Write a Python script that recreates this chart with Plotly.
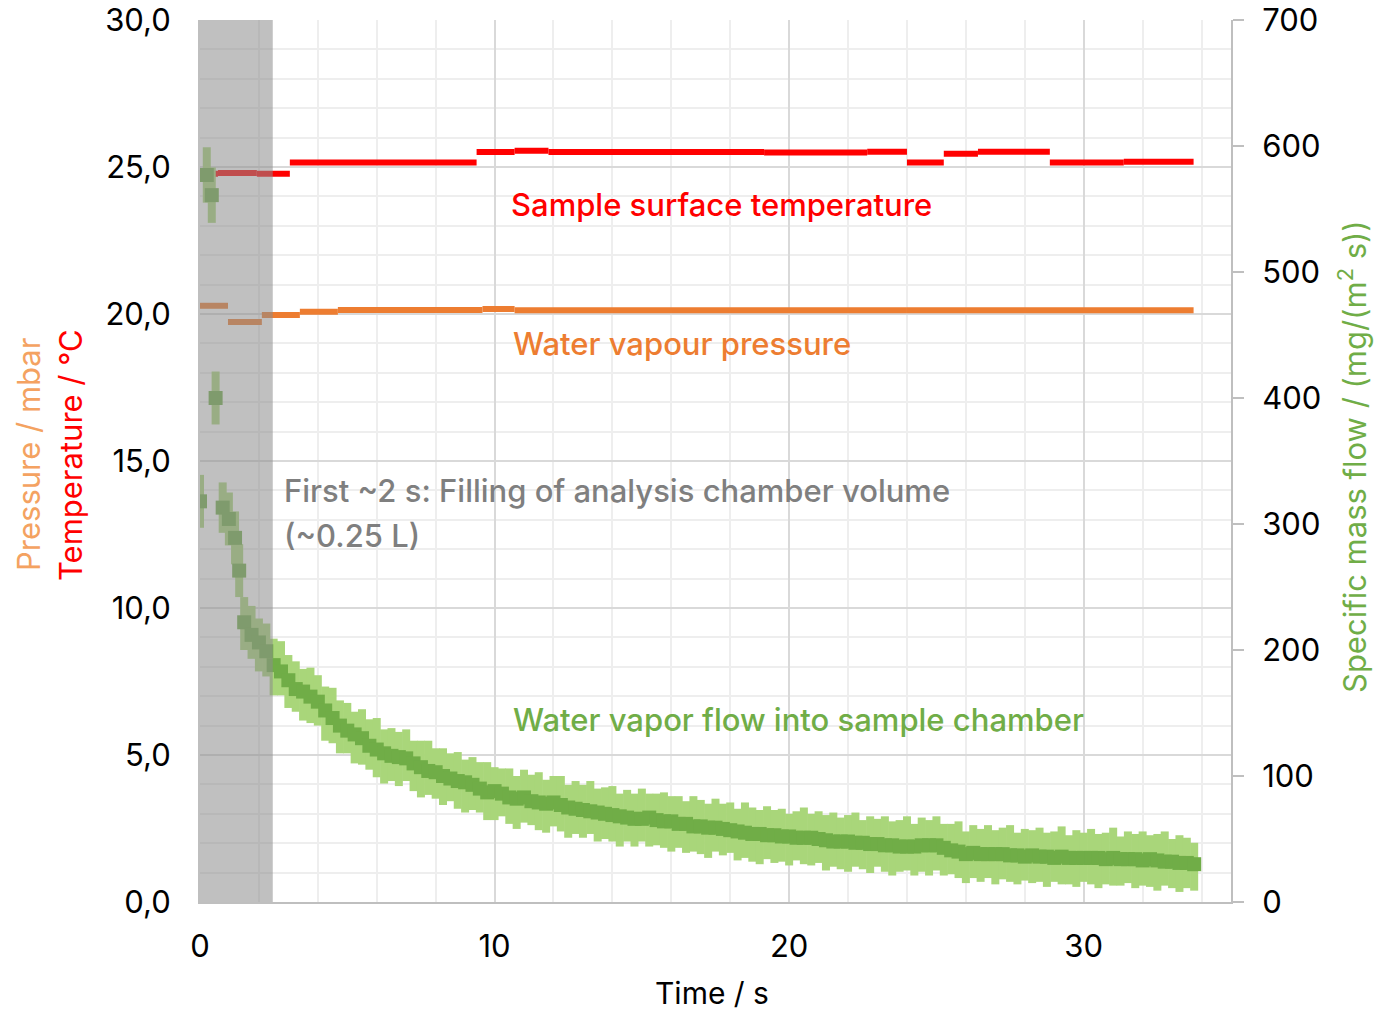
import numpy as np
import plotly.graph_objects as go

# ---------------- data ----------------
# Sample surface temperature (°C): step segments
temp_start = [0.0, 0.61, 1.93, 3.05, 9.39, 10.68, 11.83, 19.15, 22.65, 24.0, 25.25, 26.41, 28.85, 31.36]
temp_end = [0.61, 1.93, 3.05, 9.39, 10.68, 11.83, 19.15, 22.65, 24.0, 25.25, 26.41, 28.85, 31.36, 33.73]
temp_val = [24.77, 24.80, 24.77, 25.15, 25.51, 25.55, 25.51, 25.49, 25.52, 25.15, 25.45, 25.52, 25.15, 25.18]

# Water vapour pressure (mbar): step segments
pres_start = [0.0, 0.95, 2.1, 3.39, 4.68, 9.59, 10.68, 24.0]
pres_end = [0.95, 2.1, 3.39, 4.68, 9.59, 10.68, 24.0, 33.73]
pres_val = [20.28, 19.73, 19.97, 20.08, 20.14, 20.17, 20.13, 20.13]

# Specific mass flow (mg/(m^2 s)) - early points
flow_t_early = [0.0, 0.23, 0.4, 0.53, 0.77, 0.98, 1.19, 1.33]
flow_early = [318, 577, 561, 400, 313, 304, 289, 263]
flow_err_early = [21, 22, 22, 21, 20, 21, 21, 21]

# regular samples from 1.5 s every 0.25 s
flow_t_main = list(np.round(np.arange(1.5, 33.76, 0.25), 2))
flow_main = [
    222, 212, 206, 199, 188, 183, 176, 169, 167, 163,
    159, 152, 146, 140, 136, 133, 130, 124, 121, 118,
    116, 115, 114, 110, 107, 104, 103, 100, 98, 96,
    95, 93, 90, 87, 88, 86, 83, 82, 83, 80,
    79, 78, 79, 77, 75, 74, 73, 72, 71, 70,
    69, 68, 67, 66, 66, 67, 65, 64, 64, 62,
    62, 60, 60, 59, 59, 58, 57, 56, 55, 54,
    54, 53, 53, 52, 52, 51, 51, 51, 50, 49,
    48, 48, 48, 47, 47, 46, 46, 45, 45, 44,
    44, 44, 45, 45, 45, 43, 41, 40, 38, 39,
    38, 38, 38, 38, 37, 37, 36, 37, 36, 36,
    35, 36, 35, 35, 35, 35, 35, 34, 35, 34,
    34, 34, 33, 34, 33, 32, 32, 31, 31, 30,
]
flow_err_up = [
    20, 23, 19, 22, 21, 24, 20, 22, 18, 23,
    21, 19, 24, 20, 22, 18, 23, 21, 25, 19,
    22, 20, 23, 18, 21, 24, 19, 22, 20, 23,
    18, 22, 21, 24, 19, 20, 23, 18, 22, 21,
    24, 19, 21, 23, 18, 22, 20, 24, 19, 21,
    23, 18, 22, 20, 24, 19, 21, 23, 20, 22,
    18, 24, 21, 19, 23, 20, 22, 18, 24, 21,
    19, 23, 20, 22, 18, 21, 24, 19, 22, 20,
    23, 19, 21, 24, 18, 22, 20, 23, 19, 21,
    24, 18, 22, 20, 23, 19, 21, 24, 18, 22,
    20, 23, 19, 21, 24, 18, 22, 20, 23, 19,
    21, 24, 18, 22, 20, 23, 19, 21, 24, 18,
    22, 20, 23, 19, 21, 24, 18, 22, 20, 17,
]
flow_err_down = [
    22, 19, 23, 20, 24, 19, 22, 18, 23, 21,
    19, 24, 20, 22, 18, 23, 21, 19, 22, 24,
    20, 23, 18, 22, 24, 19, 21, 23, 18, 22,
    24, 20, 19, 22, 23, 18, 21, 24, 20, 19,
    22, 23, 19, 21, 24, 20, 22, 18, 23, 20,
    21, 24, 19, 22, 18, 23, 20, 21, 24, 19,
    23, 20, 22, 24, 19, 21, 18, 23, 20, 22,
    24, 19, 22, 20, 23, 18, 21, 22, 19, 24,
    20, 22, 24, 19, 21, 23, 18, 21, 24, 20,
    19, 23, 21, 24, 20, 22, 19, 21, 23, 20,
    22, 19, 24, 20, 21, 23, 19, 22, 20, 24,
    19, 22, 21, 23, 19, 21, 24, 20, 22, 21,
    19, 23, 20, 22, 24, 19, 21, 23, 20, 21,
]

x_ticks = [0, 10, 20, 30]

# colours
RED = "#ff0000"
ORANGE = "#ed7d31"
ORANGE_LIGHT = "#f4a261"
GREEN = "#70ad47"
GREEN_LIGHT = "#a9d67a"
GRAY_TXT = "#7f7f7f"
FONT = "Inter"
FS = 31


def segments(starts, ends, vals):
    xs, ys = [], []
    for s, e, v in zip(starts, ends, vals):
        xs += [s, e, None]
        ys += [v, v, None]
    return xs, ys


fig = go.Figure()

flow_t = flow_t_early + flow_t_main
flow = flow_early + flow_main
err_up = flow_err_early + flow_err_up
err_dn = flow_err_early + flow_err_down

# error bars (light green)
fig.add_trace(go.Scatter(
    x=flow_t, y=flow, mode="markers", yaxis="y2",
    marker=dict(size=1, color="rgba(0,0,0,0)"),
    error_y=dict(type="data", array=err_up, arrayminus=err_dn, symmetric=False,
                 color=GREEN_LIGHT, thickness=8, width=0),
    showlegend=False, hoverinfo="skip"))
# central values (dark green)
fig.add_trace(go.Scatter(
    x=flow_t, y=flow, mode="markers", yaxis="y2",
    marker=dict(symbol="square", size=14, color=GREEN, line=dict(width=0)),
    showlegend=False))

tx, ty = segments(temp_start, temp_end, temp_val)
fig.add_trace(go.Scatter(x=tx, y=ty, mode="lines", line=dict(color=RED, width=6),
                         connectgaps=False, showlegend=False))
px_, py_ = segments(pres_start, pres_end, pres_val)
fig.add_trace(go.Scatter(x=px_, y=py_, mode="lines", line=dict(color=ORANGE, width=6),
                         connectgaps=False, showlegend=False))

# shaded filling period
fig.add_shape(type="rect", xref="x", yref="paper", x0=0, x1=2.47, y0=0, y1=1,
              fillcolor="rgba(140,140,140,0.55)", line=dict(width=0), layer="above")

ann_font = dict(family=FONT, size=FS, weight=500)
anns = [
    dict(x=10.5, y=23.74, text="Sample surface temperature", color=RED),
    dict(x=10.55, y=18.98, text="Water vapour pressure", color=ORANGE),
    dict(x=2.78, y=13.98, text="First ~2 s: Filling of analysis chamber volume", color=GRAY_TXT),
    dict(x=2.78, y=12.45, text="(~0.25 L)", color=GRAY_TXT),
    dict(x=10.55, y=6.22, text="Water vapor flow into sample chamber", color=GREEN),
]
for a in anns:
    fig.add_annotation(x=a["x"], y=a["y"], xref="x", yref="y", text=a["text"],
                       showarrow=False, xanchor="left", yanchor="middle",
                       font=dict(ann_font, color=a["color"]))

L, R, T, B = 200, 153, 20, 110
W, H = 1384, 1012
pw, ph = W - L - R, H - T - B


def paper(px, py):
    return (px - L) / pw, (H - B - py) / ph


# axis titles as annotations
titles = [
    (28, 455, "Pressure / mbar", ORANGE_LIGHT, -90, FS),
    (70, 455, "Temperature / °C", RED, -90, FS),
    (1352, 457, "Specific mass flow / (mg/(m<sup>2</sup> s))", GREEN, -90, FS),
    (712, 993, "Time / s", "#000000", 0, 30),
]
for px, py, txt, col, ang, fs in titles:
    xp, yp = paper(px, py)
    fig.add_annotation(x=xp, y=yp, xref="paper", yref="paper", text=txt,
                       showarrow=False, textangle=ang, xanchor="center", yanchor="middle",
                       font=dict(family=FONT, size=fs, color=col))

grid_major = "#d9d9d9"
grid_minor = "#eeeeee"
fig.update_layout(
    width=W, height=H,
    margin=dict(l=L, r=R, t=T, b=B, pad=0),
    paper_bgcolor="white", plot_bgcolor="white",
    separators=", ",
    font=dict(family=FONT, size=FS, color="#000000"),
    xaxis=dict(range=[0, 35], tickvals=x_ticks, showgrid=True, gridcolor=grid_major,
               gridwidth=2, zeroline=False, showline=True, linecolor="#bfbfbf",
               linewidth=2, ticks="", ticklabelstandoff=16, automargin=False,
               minor=dict(dtick=2, tick0=0, showgrid=True, gridcolor=grid_minor, gridwidth=2)),
    yaxis=dict(range=[0, 30], dtick=5, tickformat=".1f", showgrid=True,
               gridcolor=grid_major, gridwidth=2, zeroline=False, showline=True,
               linecolor="#bfbfbf", linewidth=2, ticks="", ticklabelstandoff=21,
               automargin=False,
               minor=dict(dtick=1, showgrid=True, gridcolor=grid_minor, gridwidth=2)),
    yaxis2=dict(range=[0, 700], dtick=100, overlaying="y", side="right",
                showgrid=False, zeroline=False, showline=True, linecolor="#bfbfbf",
                linewidth=2, ticks="outside", ticklen=11, tickcolor="#bfbfbf",
                tickwidth=2, ticklabelstandoff=12, automargin=False),
)

fig.write_html("out.html")
